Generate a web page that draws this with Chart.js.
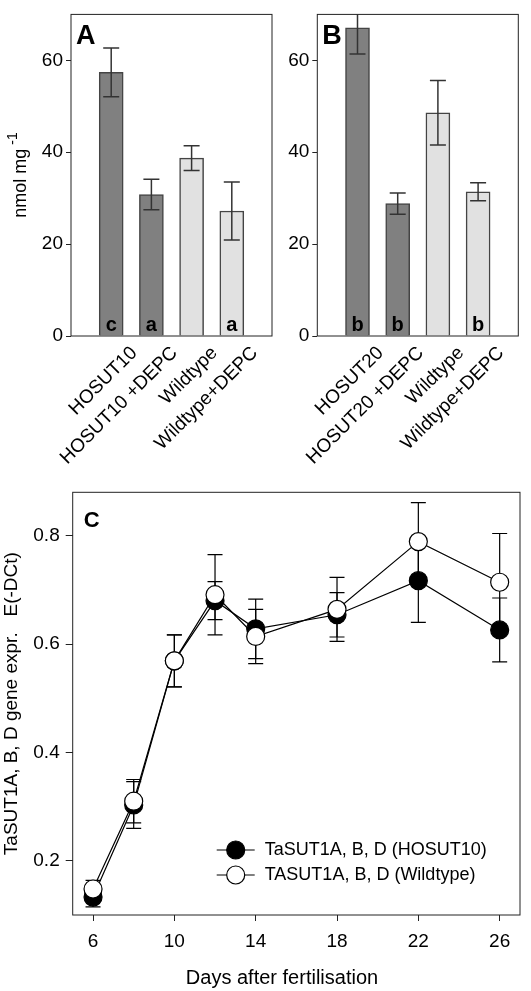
<!DOCTYPE html>
<html>
<head>
<meta charset="utf-8">
<script src="https://cdn.jsdelivr.net/npm/chart.js@4.4.1/dist/chart.umd.min.js"></script>
<style>
body { margin: 0; background: #fff; width: 531px; height: 991px; position: relative; overflow: hidden; }
canvas { position: absolute; }
</style>
</head>
<body>
<canvas id="chartA" width="280" height="470" style="left:0;top:0"></canvas>
<canvas id="chartB" width="281" height="470" style="left:250px;top:0"></canvas>
<canvas id="chartC" width="531" height="531" style="left:0;top:460px"></canvas>
<script>
// panel A / B data
const catsA = ['HOSUT10', 'HOSUT10 +DEPC', 'Wildtype', 'Wildtype+DEPC'];
const valsA = [57.4, 30.8, 38.7, 27.2];
const errA = [5.3, 3.3, 2.7, 6.3];
const lettersA = ['c', 'a', '', 'a'];

const catsB = ['HOSUT20', 'HOSUT20 +DEPC', 'Wildtype', 'Wildtype+DEPC'];
const valsB = [67.1, 28.8, 48.6, 31.4];
const errB = [5.7, 2.3, 7.0, 1.95];
const lettersB = ['b', 'b', '', 'b'];

const barTicks = [0, 20, 40, 60];

// panel C data
const days = [6, 8, 10, 12, 14, 18, 22, 26];
const hosut10 = [0.133, 0.303, 0.569, 0.68, 0.628, 0.654, 0.717, 0.626];
const hosut10Err = [0.018, 0.043, 0.048, 0.035, 0.055, 0.041, 0.077, 0.059];
const wildtype = [0.148, 0.31, 0.569, 0.691, 0.614, 0.664, 0.789, 0.714];
const wildtypeErr = [0.016, 0.04, 0.048, 0.074, 0.05, 0.059, 0.072, 0.09];
const dayTicks = [6, 10, 14, 18, 22, 26];
const exprTicks = [0.2, 0.4, 0.6, 0.8];

const FONT = 'Liberation Sans, Arial, Helvetica, sans-serif';
Chart.defaults.font.family = FONT;
Chart.defaults.color = '#000';

const dark = '#808080', light = '#e1e1e1';
const barFills = [dark, dark, light, light];

// draws the frame around the plot area
const box = {
  id: 'box',
  afterDraw(chart) {
    const {ctx, chartArea: a} = chart;
    ctx.save();
    ctx.strokeStyle = '#222';
    ctx.lineWidth = 1;
    ctx.strokeRect(a.left, a.top, a.right - a.left, a.bottom - a.top);
    ctx.restore();
  }
};

// error bars, significance letters, panel letter and y title for bar panels
const barExtras = {
  id: 'barExtras',
  afterDatasetsDraw(chart, args, o) {
    const {ctx, chartArea: a, scales: {x, y}} = chart;
    ctx.save();
    ctx.beginPath();
    ctx.rect(a.left, a.top, a.right - a.left, a.bottom - a.top);
    ctx.clip();
    ctx.strokeStyle = '#333';
    ctx.lineWidth = 1.5;
    o.vals.forEach((v, i) => {
      const px = x.getPixelForValue(i + 1);
      const t = y.getPixelForValue(v + o.errs[i]);
      const b = y.getPixelForValue(v - o.errs[i]);
      ctx.beginPath();
      ctx.moveTo(px, t); ctx.lineTo(px, b);
      ctx.moveTo(px - 8, t); ctx.lineTo(px + 8, t);
      ctx.moveTo(px - 8, b); ctx.lineTo(px + 8, b);
      ctx.stroke();
    });
    ctx.fillStyle = '#000';
    ctx.font = 'bold 20px ' + FONT;
    ctx.textAlign = 'center';
    ctx.textBaseline = 'alphabetic';
    o.letters.forEach((l, i) => {
      if (l) ctx.fillText(l, x.getPixelForValue(i + 1), a.bottom - 5);
    });
    ctx.font = 'bold 27px ' + FONT;
    ctx.textAlign = 'left';
    ctx.fillText(o.panel, a.left + 5, a.top + 30);
    ctx.restore();

    if (o.yTitle) {
      ctx.save();
      ctx.translate(21, 175);
      ctx.rotate(-Math.PI / 2);
      ctx.fillStyle = '#000';
      ctx.textBaseline = 'middle';
      ctx.font = '18px ' + FONT;
      const w1 = ctx.measureText('nmol mg').width;
      ctx.font = '14px ' + FONT;
      const w2 = ctx.measureText('-1').width;
      const start = -(w1 + 4 + w2) / 2;
      ctx.font = '18px ' + FONT;
      ctx.textAlign = 'left';
      ctx.fillText('nmol mg', start, 0);
      ctx.font = '14px ' + FONT;
      ctx.fillText('-1', start + w1 + 4, -8);
      ctx.restore();
    }
  }
};

function barPanel(id, cats, vals, errs, letters, panel, axisW, padRight, padTop, yTitle) {
  const labels = ['', ...cats, ''];
  new Chart(document.getElementById(id), {
    type: 'bar',
    data: {
      labels: labels,
      datasets: [{
        data: [null, ...vals, null],
        backgroundColor: ['', ...barFills, ''],
        borderColor: '#444',
        borderWidth: 1.5,
        barThickness: 24
      }]
    },
    options: {
      responsive: false,
      animation: false,
      devicePixelRatio: 1,
      layout: { padding: { top: padTop, right: padRight, left: 0, bottom: 0 } },
      plugins: {
        legend: { display: false },
        tooltip: { enabled: false },
        barExtras: { vals: vals, errs: errs, letters: letters, panel: panel, yTitle: yTitle }
      },
      scales: {
        x: {
          offset: false,
          afterFit: s => { s.height = 470 - 336; s.paddingLeft = 0; s.paddingRight = 0; },
          grid: { display: false },
          border: { display: false },
          ticks: { autoSkip: false, maxRotation: 45, minRotation: 45, padding: -2, labelOffset: 23, font: { size: 19 } }
        },
        y: {
          min: 0, max: 70,
          afterBuildTicks: s => { s.ticks = barTicks.map(v => ({ value: v })); },
          afterFit: s => { s.width = axisW; },
          grid: { drawOnChartArea: false, tickLength: 5, color: '#222' },
          border: { display: false },
          ticks: { padding: 3, font: { size: 19 } }
        }
      }
    },
    plugins: [box, barExtras]
  });
}

barPanel('chartA', catsA, valsA, errA, lettersA, 'A', 71, 8, 2, true);
barPanel('chartB', catsB, valsB, errB, lettersB, 'B', 67.3, 12.7, 2.7, false);

// error bars for the time course
const lineErrors = {
  id: 'lineErrors',
  beforeDatasetsDraw(chart, args, o) {
    const {ctx, scales: {x, y}} = chart;
    ctx.save();
    ctx.strokeStyle = '#000';
    ctx.lineWidth = 1.2;
    o.sets.forEach(set => {
      set.vals.forEach((v, i) => {
        const px = x.getPixelForValue(days[i]);
        const t = y.getPixelForValue(v + set.errs[i]);
        const b = y.getPixelForValue(v - set.errs[i]);
        ctx.beginPath();
        ctx.moveTo(px, t); ctx.lineTo(px, b);
        ctx.moveTo(px - 7.5, t); ctx.lineTo(px + 7.5, t);
        ctx.moveTo(px - 7.5, b); ctx.lineTo(px + 7.5, b);
        ctx.stroke();
      });
    });
    ctx.restore();
  }
};

// legend inside the plot, panel letter and x title
const legendC = {
  id: 'legendC',
  afterDraw(chart) {
    const {ctx, chartArea: a} = chart;
    ctx.save();
    chart.data.datasets.forEach((ds, i) => {
      const yy = a.bottom - 65 + i * 25;
      const x0 = a.left + 144;
      ctx.strokeStyle = '#000';
      ctx.lineWidth = 1.2;
      ctx.beginPath();
      ctx.moveTo(x0, yy); ctx.lineTo(x0 + 38, yy);
      ctx.stroke();
      ctx.beginPath();
      ctx.arc(x0 + 19, yy, 9, 0, Math.PI * 2);
      ctx.fillStyle = ds.pointBackgroundColor;
      ctx.fill();
      ctx.stroke();
      ctx.fillStyle = '#000';
      ctx.font = '18px ' + FONT;
      ctx.textBaseline = 'middle';
      ctx.textAlign = 'left';
      ctx.fillText(ds.label, x0 + 48, yy);
    });
    ctx.font = 'bold 22px ' + FONT;
    ctx.textBaseline = 'alphabetic';
    ctx.fillText('C', a.left + 11, a.top + 35);
    ctx.font = '20px ' + FONT;
    ctx.textAlign = 'center';
    ctx.textBaseline = 'middle';
    ctx.fillText('Days after fertilisation', 282, chart.height - 13);
    ctx.restore();
  }
};

new Chart(document.getElementById('chartC'), {
  type: 'line',
  data: {
    datasets: [
      {
        label: 'TaSUT1A, B, D (HOSUT10)',
        data: days.map((d, i) => ({ x: d, y: hosut10[i] })),
        borderColor: '#000', borderWidth: 1.2,
        pointRadius: 9, pointBackgroundColor: '#000', pointBorderColor: '#000', pointBorderWidth: 1.2,
        order: 2
      },
      {
        label: 'TASUT1A, B, D (Wildtype)',
        data: days.map((d, i) => ({ x: d, y: wildtype[i] })),
        borderColor: '#000', borderWidth: 1.2,
        pointRadius: 9, pointBackgroundColor: '#fff', pointBorderColor: '#000', pointBorderWidth: 1.2,
        order: 1
      }
    ]
  },
  options: {
    responsive: false,
    animation: false,
    devicePixelRatio: 1,
    layout: { padding: { top: 32.3, right: 11, left: 0, bottom: 0 } },
    plugins: {
      legend: { display: false },
      tooltip: { enabled: false },
      lineErrors: { sets: [ { vals: hosut10, errs: hosut10Err }, { vals: wildtype, errs: wildtypeErr } ] }
    },
    scales: {
      x: {
        type: 'linear', min: 5, max: 27,
        afterBuildTicks: s => { s.ticks = dayTicks.map(v => ({ value: v })); },
        afterFit: s => { s.height = 76; },
        grid: { drawOnChartArea: false, tickLength: 6, color: '#222' },
        border: { display: false },
        ticks: { padding: 9, font: { size: 19 } }
      },
      y: {
        min: 0.1, max: 0.88,
        afterBuildTicks: s => { s.ticks = exprTicks.map(v => ({ value: v })); },
        afterFit: s => { s.width = 72.7; },
        grid: { drawOnChartArea: false, tickLength: 7, color: '#222' },
        border: { display: false },
        ticks: { padding: 6, font: { size: 19 }, callback: v => v.toFixed(1) },
        title: { display: true, text: 'TaSUT1A, B, D gene expr.   E(-DCt)', font: { size: 19 }, padding: { top: 0, bottom: 0 } }
      }
    }
  },
  plugins: [box, lineErrors, legendC]
});
</script>
</body>
</html>
